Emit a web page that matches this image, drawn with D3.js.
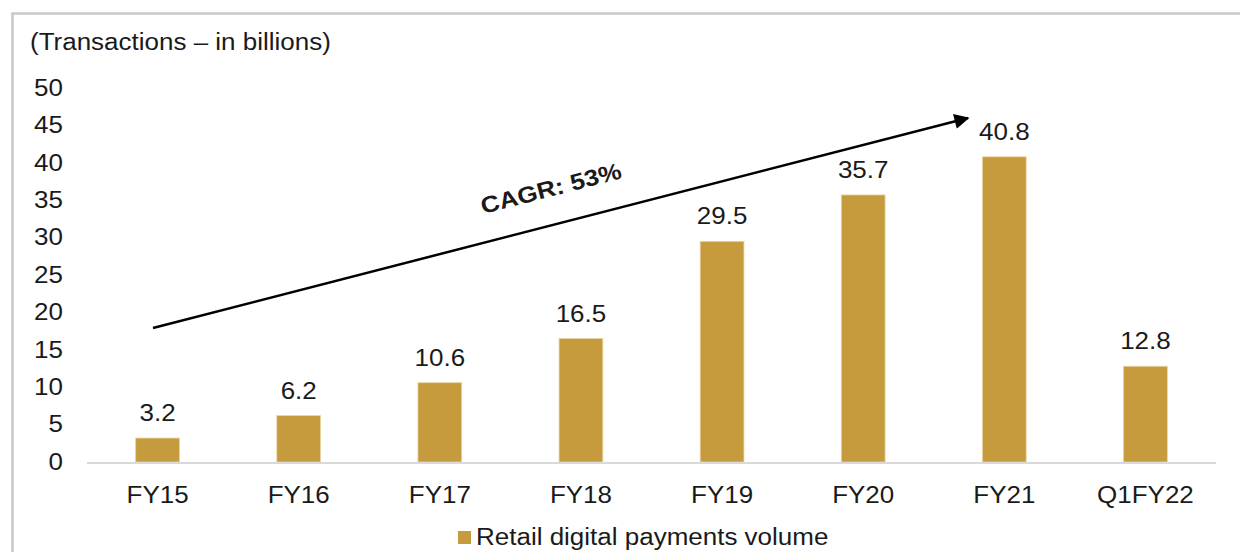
<!DOCTYPE html>
<html><head><meta charset="utf-8">
<script src="https://cdn.jsdelivr.net/npm/d3@7"></script>
<style>
html,body{margin:0;padding:0;background:#fff;}
svg text{font-family:"Liberation Sans",Arial,sans-serif;fill:#1a1a1a;}
</style></head>
<body><svg id="c" width="1240" height="552"></svg>
<script>
const categories = ["FY15","FY16","FY17","FY18","FY19","FY20","FY21","Q1FY22"];
const values = [3.2, 6.2, 10.6, 16.5, 29.5, 35.7, 40.8, 12.8];
const yTicks = [0,5,10,15,20,25,30,35,40,45,50];
const seriesName = "Retail digital payments volume";
const unitLabel = "(Transactions \u2013 in billions)";
const cagrLabel = "CAGR: 53%";

const svg = d3.select("#c");
const W = 1240, H = 552;
const barColor = "#C59B3D";
const fs = 23;
const sx = 1.13; // horizontal stretch of text in the reference

function txt(parent, x0, y0, s, opts={}) {
  const t = parent.append("text")
    .attr("transform", `translate(${x0},${y0})${opts.rotate!==undefined?` rotate(${opts.rotate})`:""} scale(${sx},1)`)
    .attr("font-size", opts.size || fs)
    .attr("text-anchor", opts.anchor || "start")
    .text(s);
  if (opts.bold) t.attr("font-weight","bold");
  return t;
}

// frame
svg.append("path").attr("d", `M12.5,${H} L12.5,13.5 L${W},13.5`)
  .attr("fill","none").attr("stroke","#c8c8c8").attr("stroke-width",2.5);

const x = d3.scaleBand().domain(categories).range([87,1216]).paddingInner(0.69).paddingOuter(0.345);
const y = d3.scaleLinear().domain([0,50]).range([462,88]);

// title
txt(svg, 30, 49.5, unitLabel);

// y axis labels
const yAxis = d3.axisLeft(y).tickValues(yTicks).tickSize(0).tickPadding(0);
const gy = svg.append("g").attr("transform","translate(63,0)").call(yAxis);
gy.select(".domain").remove();
gy.selectAll("text").attr("font-size",fs).attr("font-family","Liberation Sans, Arial, sans-serif")
  .attr("fill","#1a1a1a").attr("transform",`scale(${sx},1)`);

// bars
svg.selectAll("rect.bar").data(values).join("rect").attr("class","bar")
  .attr("x",(d,i)=>x(categories[i])).attr("width",x.bandwidth())
  .attr("y",d=>y(d)).attr("height",d=>y(0)-y(d)).attr("fill",barColor)
  .attr("stroke","#e9d3a0").attr("stroke-width",0.8);

// baseline
svg.append("line").attr("x1",87).attr("x2",1216).attr("y1",y(0)+1).attr("y2",y(0)+1)
  .attr("stroke","#d9d9d9").attr("stroke-width",2);

// x axis
const xAxis = d3.axisBottom(x).tickSize(0).tickPadding(0);
const gx = svg.append("g").attr("transform",`translate(0,${y(0)})`).call(xAxis);
gx.select(".domain").remove();
gx.selectAll("text").attr("font-size",fs).attr("font-family","Liberation Sans, Arial, sans-serif")
  .attr("fill","#1a1a1a").attr("dy",null).attr("y",41).attr("transform",`scale(${sx},1)`);

// data labels
values.forEach((d,i)=>{
  txt(svg, x(categories[i])+x.bandwidth()/2, y(d)-17, d.toFixed(1), {anchor:"middle"});
});

// arrow
const defs = svg.append("defs");
defs.append("marker").attr("id","ah").attr("viewBox","0 0 10 10").attr("refX",9).attr("refY",5)
  .attr("markerWidth",7.5).attr("markerHeight",6).attr("markerUnits","strokeWidth").attr("orient","auto")
  .append("path").attr("d","M0,0 L10,5 L0,10 Z").attr("fill","#000");
const ax1 = 153, ay1 = 328, ax2 = 972, ay2 = 117;
svg.append("line").attr("x1",ax1).attr("y1",ay1).attr("x2",ax2-4).attr("y2",ay2+1)
  .attr("stroke","#000").attr("stroke-width",2.5).attr("marker-end","url(#ah)");
const ang = Math.atan2(ay2-ay1, ax2-ax1)*180/Math.PI;
txt(svg, 553, 196, cagrLabel, {anchor:"middle", size:23, bold:true, rotate:ang});

// legend
svg.append("rect").attr("x",458).attr("y",531).attr("width",13).attr("height",13).attr("fill",barColor);
txt(svg, 476, 545, seriesName);
</script></body></html>
